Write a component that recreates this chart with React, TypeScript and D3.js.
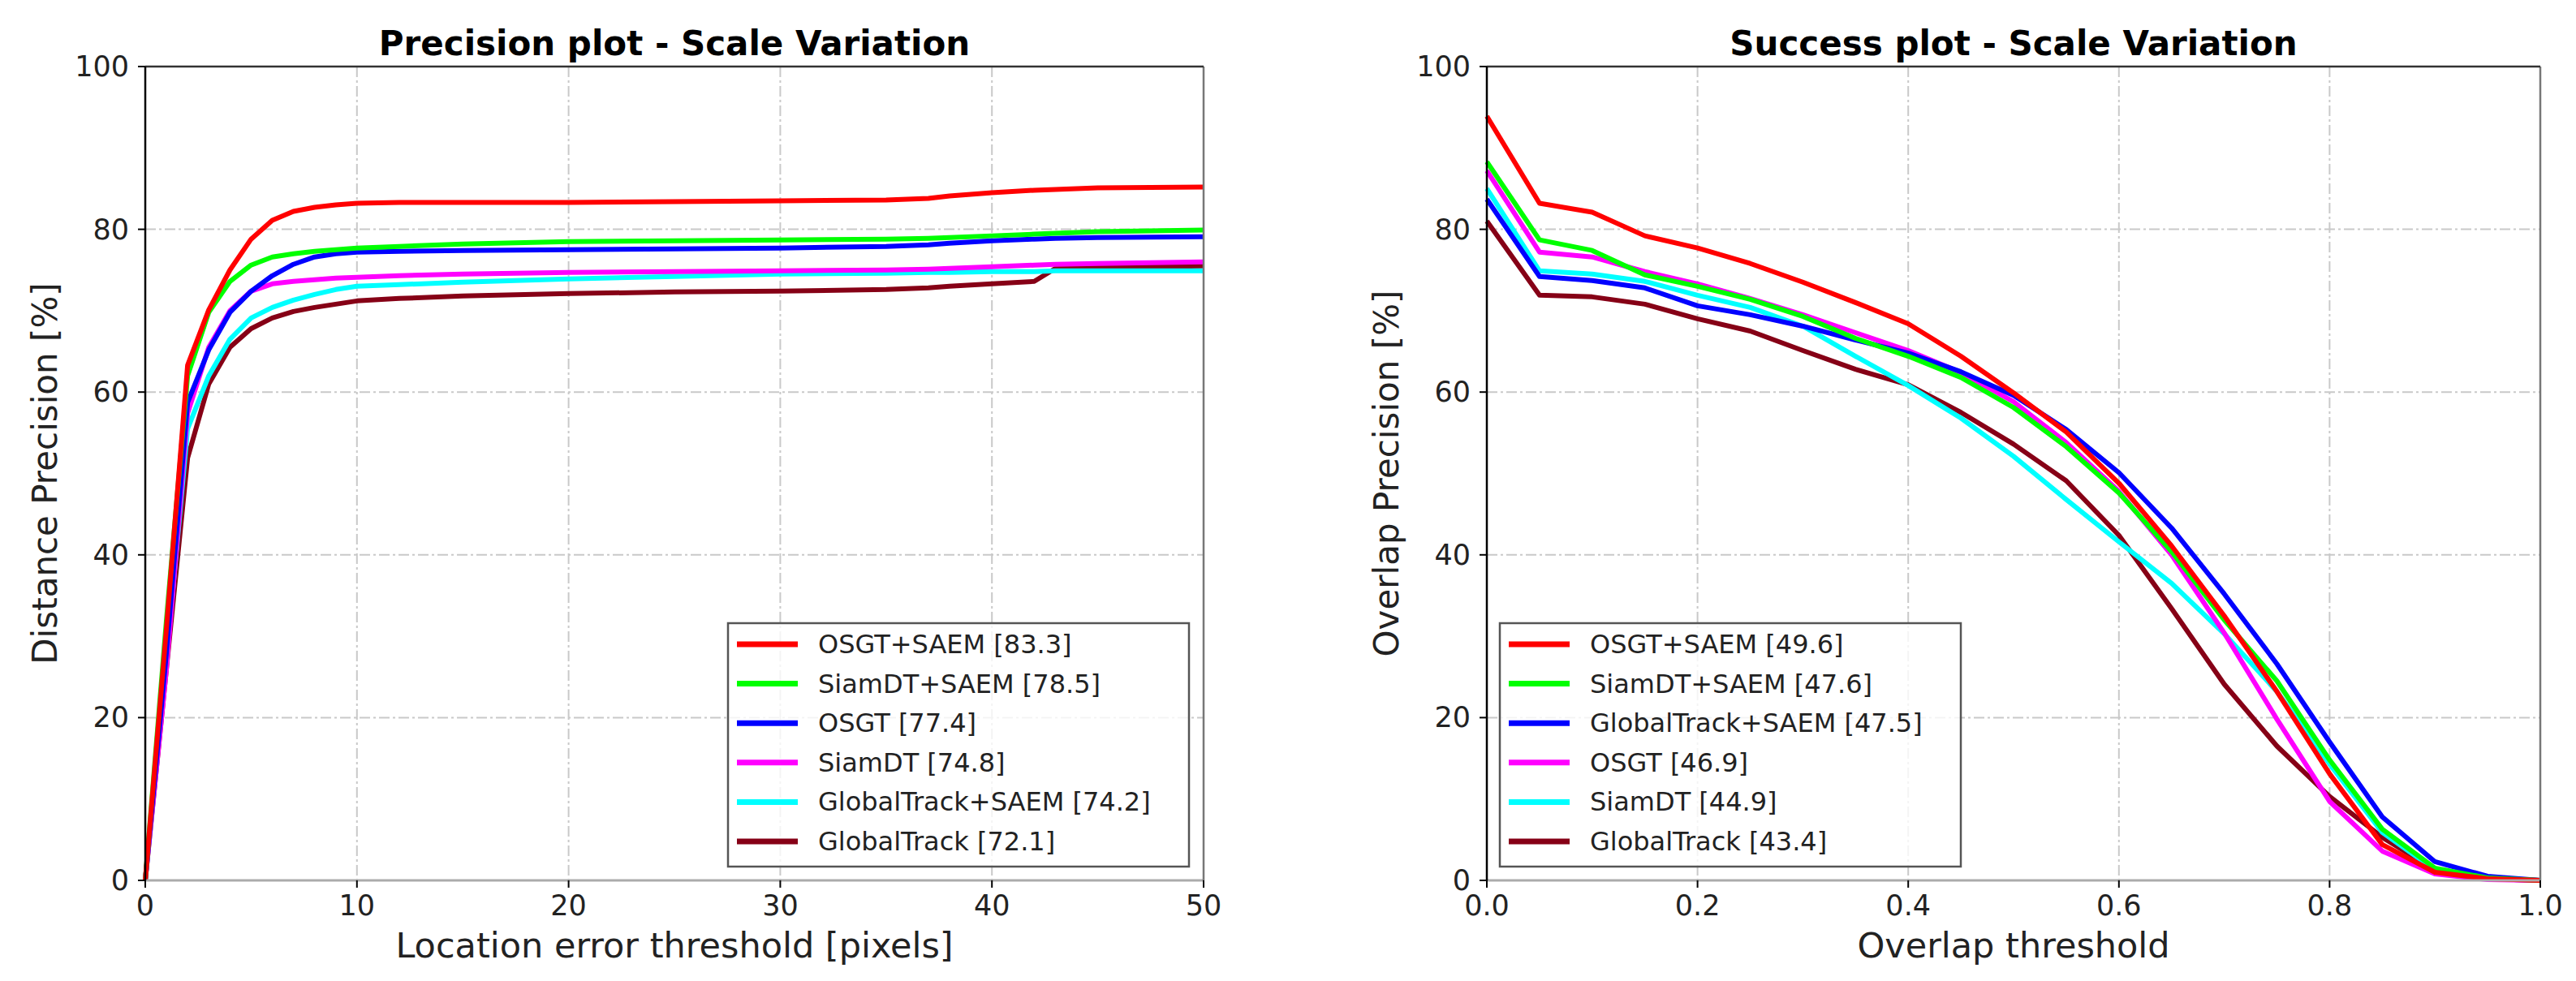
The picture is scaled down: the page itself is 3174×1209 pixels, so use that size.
import React from 'react';
import * as d3 from 'd3';

// ---- precision plot data (location error threshold, px) ----
const precThresholds = [0, 1, 2, 3, 4, 5, 6, 7, 8, 9, 10, 12, 15, 20, 25, 30, 35, 37, 38, 40, 42, 43, 45, 50];
const precOsgtSaem = [0, 31, 63.3, 70.1, 75, 78.8, 81.1, 82.2, 82.7, 83.0, 83.2, 83.3, 83.3, 83.3, 83.4, 83.5, 83.6, 83.8, 84.1, 84.5, 84.8, 84.9, 85.1, 85.2];
const precSiamdtSaem = [0, 32, 62, 69.8, 73.6, 75.6, 76.6, 77, 77.3, 77.5, 77.7, 77.9, 78.2, 78.5, 78.6, 78.7, 78.8, 78.9, 79, 79.2, 79.4, 79.5, 79.7, 79.9];
const precOsgt = [0, 28, 58.7, 65.2, 69.8, 72.4, 74.3, 75.7, 76.6, 77.0, 77.2, 77.3, 77.4, 77.5, 77.6, 77.7, 77.9, 78.1, 78.3, 78.6, 78.8, 78.9, 79.0, 79.1];
const precSiamdt = [0, 26, 57.4, 65.5, 70, 72.4, 73.3, 73.6, 73.8, 74.0, 74.1, 74.3, 74.5, 74.7, 74.8, 74.9, 75.0, 75.1, 75.2, 75.4, 75.6, 75.7, 75.8, 76.0];
const precGlobalSaem = [0, 27, 55.5, 62, 66.5, 69.1, 70.4, 71.3, 72.0, 72.6, 73.0, 73.2, 73.5, 73.9, 74.2, 74.5, 74.6, 74.7, 74.7, 74.8, 74.8, 74.9, 74.9, 74.9];
const precGlobal = [0, 26, 51.9, 61, 65.5, 67.8, 69.1, 69.9, 70.4, 70.8, 71.2, 71.5, 71.8, 72.1, 72.3, 72.4, 72.6, 72.8, 73.0, 73.3, 73.6, 75.2, 75.3, 75.5];
const precLabels = ['OSGT+SAEM [83.3]', 'SiamDT+SAEM [78.5]', 'OSGT [77.4]', 'SiamDT [74.8]', 'GlobalTrack+SAEM [74.2]', 'GlobalTrack [72.1]'];

// ---- success plot data (overlap threshold) ----
const overlapThresholds = [0, 0.05, 0.1, 0.15, 0.2, 0.25, 0.3, 0.35, 0.4, 0.45, 0.5, 0.55, 0.6, 0.65, 0.7, 0.75, 0.8, 0.85, 0.9, 0.95, 1.0];
const succOsgtSaem = [93.9, 83.2, 82.1, 79.2, 77.7, 75.8, 73.5, 71.0, 68.4, 64.4, 59.9, 55.1, 48.8, 41.1, 32.5, 23.2, 13.1, 4.4, 1.0, 0.2, 0];
const succSiamdtSaem = [88.3, 78.7, 77.4, 74.4, 73.0, 71.4, 69.3, 66.6, 64.4, 61.8, 58.1, 53.3, 47.6, 40.4, 32.0, 24.5, 14.8, 6.3, 1.5, 0.3, 0];
const succGlobalSaem = [83.7, 74.2, 73.7, 72.8, 70.6, 69.5, 68.1, 66.4, 64.8, 62.5, 59.6, 55.4, 50.1, 43.3, 35.2, 26.6, 17.0, 7.8, 2.3, 0.5, 0];
const succOsgt = [87.2, 77.2, 76.6, 74.8, 73.3, 71.5, 69.5, 67.3, 65.1, 62.4, 58.8, 53.8, 47.8, 40.0, 30.4, 19.8, 9.7, 3.6, 0.8, 0.1, 0];
const succSiamdt = [85.0, 74.9, 74.5, 73.6, 71.9, 70.4, 68.1, 64.4, 60.8, 56.8, 52.1, 46.8, 41.6, 36.5, 30.3, 23.2, 14.3, 5.9, 1.3, 0.2, 0];
const succGlobal = [81.0, 71.9, 71.7, 70.8, 69.0, 67.5, 65.1, 62.8, 60.9, 57.5, 53.6, 49.1, 42.4, 33.4, 24.1, 16.5, 10.3, 5.3, 1.3, 0.2, 0];
const succLabels = ['OSGT+SAEM [49.6]', 'SiamDT+SAEM [47.6]', 'GlobalTrack+SAEM [47.5]', 'OSGT [46.9]', 'SiamDT [44.9]', 'GlobalTrack [43.4]'];

const rankColors = ['#ff0000', '#00ff00', '#0000ff', '#ff00ff', '#00ffff', '#860016'];
const yTicks = [0, 20, 40, 60, 80, 100];
const precXTicks = [0, 10, 20, 30, 40, 50];
const overlapXTicks = [0, 0.2, 0.4, 0.6, 0.8, 1.0];

const W = 3174;
const H = 1209;
const FONT = '"DejaVu Sans", Verdana, sans-serif';
const TOP = 82;
const BOTTOM = 1085;

type PanelProps = {
  x0: number; x1: number;
  domain: [number, number];
  xs: number[];
  series: number[][];
  labels: string[];
  xTicks: number[];
  fmt: (v: number) => string;
  title: string; xLabel: string; yLabel: string;
  legX: number;
};

const Panel = ({ x0, x1, domain, xs, series, labels, xTicks, fmt, title, xLabel, yLabel, legX }: PanelProps) => {
  const x = d3.scaleLinear().domain(domain).range([x0, x1]);
  const y = d3.scaleLinear().domain([0, 100]).range([BOTTOM, TOP]);
  const line = d3.line<number>()
    .x((_, i) => x(xs[i]))
    .y(d => y(d));
  const cx = (x0 + x1) / 2;
  const legY = 768;
  const grid = { stroke: '#c9c9c9', strokeWidth: 2, strokeDasharray: '13,4,3,4' };

  return (
    <g>
      {/* grid */}
      {yTicks.filter(t => t > 0 && t < 100).map(t => (
        <line key={'gy' + t} x1={x0} x2={x1} y1={y(t)} y2={y(t)} {...grid} />
      ))}
      {xTicks.filter(t => t > domain[0] && t < domain[1]).map(t => (
        <line key={'gx' + t} x1={x(t)} x2={x(t)} y1={TOP} y2={BOTTOM} {...grid} />
      ))}

      {/* curves, lowest rank underneath */}
      {series.map((s, i) => ({ s, i })).reverse().map(({ s, i }) => (
        <path key={'l' + i} d={line(s) || ''} fill="none" stroke={rankColors[i]} strokeWidth={6}
          strokeLinejoin="round" strokeLinecap="butt" />
      ))}

      {/* spines */}
      <line x1={x0} x2={x1} y1={BOTTOM} y2={BOTTOM} stroke="#ababab" strokeWidth={3} />
      <line x1={x1} x2={x1} y1={TOP} y2={BOTTOM} stroke="#777" strokeWidth={2.5} />
      <line x1={x0} x2={x1} y1={TOP} y2={TOP} stroke="#333" strokeWidth={2.5} />
      <line x1={x0} x2={x0} y1={TOP} y2={BOTTOM} stroke="#000" strokeWidth={2.5} />

      {/* y ticks */}
      {yTicks.map(t => (
        <g key={'ty' + t}>
          <line x1={x0 - 9} x2={x0} y1={y(t)} y2={y(t)} stroke="#000" strokeWidth={2} />
          <text x={x0 - 20} y={y(t)} textAnchor="end" dominantBaseline="central"
            fontSize={35} fontFamily={FONT} fill="#222">{t}</text>
        </g>
      ))}
      {/* x ticks */}
      {xTicks.map(t => (
        <g key={'tx' + t}>
          <line x1={x(t)} x2={x(t)} y1={BOTTOM} y2={BOTTOM + 9} stroke="#000" strokeWidth={2} />
          <text x={x(t)} y={1128} textAnchor="middle" fontSize={35} fontFamily={FONT} fill="#222">{fmt(t)}</text>
        </g>
      ))}

      {/* labels */}
      <text x={cx} y={68} textAnchor="middle" fontSize={42} fontWeight="bold" fontFamily={FONT} fill="#000">{title}</text>
      <text x={cx} y={1180} textAnchor="middle" fontSize={43} fontFamily={FONT} fill="#222">{xLabel}</text>
      <text transform={`translate(${x0 - 124},${(TOP + BOTTOM) / 2}) rotate(-90)`} textAnchor="middle"
        dominantBaseline="central" fontSize={42} fontFamily={FONT} fill="#222">{yLabel}</text>

      {/* legend */}
      <rect x={legX} y={legY} width={568} height={300} fill="#fff" fillOpacity={0.8} stroke="#555" strokeWidth={2.5} />
      {labels.map((lab, i) => {
        const ry = legY + 26 + i * 48.6;
        return (
          <g key={'lg' + i}>
            <line x1={legX + 11} x2={legX + 86} y1={ry} y2={ry} stroke={rankColors[i]} strokeWidth={7} />
            <text x={legX + 111} y={ry} dominantBaseline="central" fontSize={32} fontFamily={FONT} fill="#222">{lab}</text>
          </g>
        );
      })}
    </g>
  );
};

const App = () => (
  <svg width={W} height={H} viewBox={`0 0 ${W} ${H}`}
    style={{ position: 'absolute', left: 0, top: 0, display: 'block', background: '#fff' }}>
    <rect width={W} height={H} fill="#fff" />
    <Panel x0={179} x1={1483} domain={[0, 50]} xs={precThresholds}
      series={[precOsgtSaem, precSiamdtSaem, precOsgt, precSiamdt, precGlobalSaem, precGlobal]}
      labels={precLabels} xTicks={precXTicks} fmt={v => String(v)}
      title="Precision plot - Scale Variation" xLabel="Location error threshold [pixels]"
      yLabel="Distance Precision [%]" legX={897} />
    <Panel x0={1832} x1={3130} domain={[0, 1]} xs={overlapThresholds}
      series={[succOsgtSaem, succSiamdtSaem, succGlobalSaem, succOsgt, succSiamdt, succGlobal]}
      labels={succLabels} xTicks={overlapXTicks} fmt={v => v.toFixed(1)}
      title="Success plot - Scale Variation" xLabel="Overlap threshold"
      yLabel="Overlap Precision [%]" legX={1848} />
  </svg>
);

export default App;
